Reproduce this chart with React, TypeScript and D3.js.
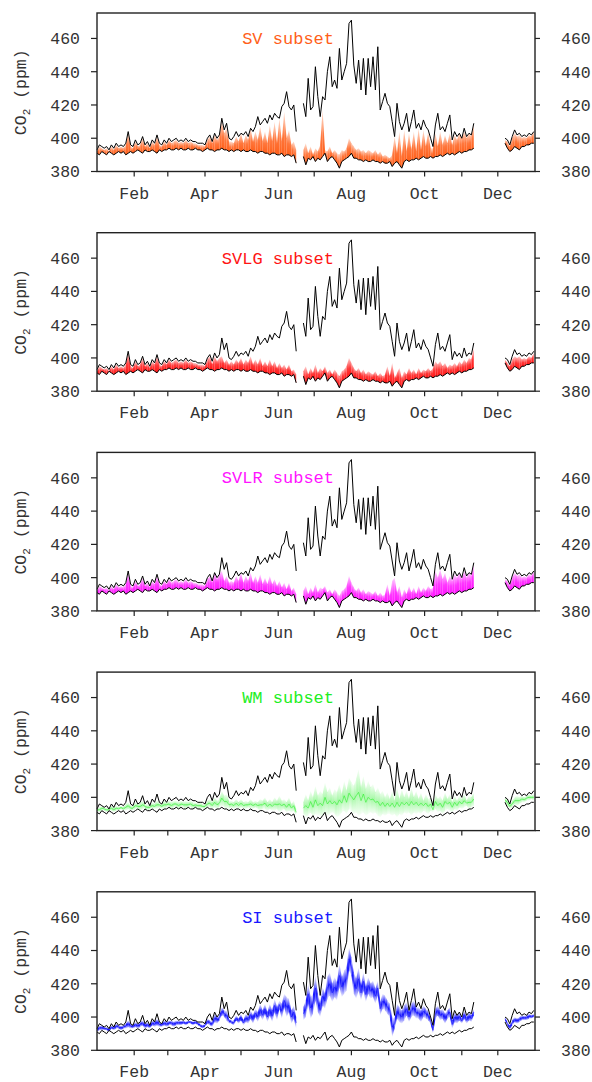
import React from 'react';
import * as d3 from 'd3';

const W = 592;
const H = 1082;
const PLOT_LEFT = 97;
const PLOT_RIGHT = 535;
const FIRST_TOP = 13;
const PANEL_STEP = 219.7;
const PANEL_H = 158.5;
const Y_MIN = 380;
const Y_MAX = 475.3;
const FONT = "'Liberation Mono', 'Courier New', monospace";

// one sample every two days (day of year 0..364)
const DAYS = d3.range(0, 365, 2);
const GAP_SHORT = [null, null];
const GAP_LONG = Array(12).fill(null);

const MONTH_DAYS = [31, 59, 90, 120, 151, 181, 212, 243, 273, 304, 334];
const MONTH_LABELS = ['Feb', '', 'Apr', '', 'Jun', '', 'Aug', '', 'Oct', '', 'Dec'];
const Y_TICKS = [380, 400, 420, 440, 460];

// upper envelope (black)
const MAX_CO2 = [
  393, 396, 395, 394, 395, 393, 396, 394, 397, 395, 396, 395,
  397, 404, 396, 395, 399, 396, 397, 401, 396, 398, 395, 399,
  397, 402, 397, 396, 399, 397, 400, 398, 399, 400, 398, 399,
  398, 400, 398, 399, 398, 398, 397, 397, 397, 396, 400, 402,
  398, 403, 400, 402, 412, 405, 409, 400, 399, 401, 404, 401,
  403, 402, 404, 401, 406, 404, 407, 413, 408, 410, 412, 409,
  414, 411, 415, 413, 412, 419, 421, 428, 419, 417, 420, 404,
  ...GAP_SHORT,
  421, 413, 436, 417, 419, 443, 425, 413, 425, 423, 440, 449,
  431, 435, 430, 454, 435, 440, 445, 469, 471, 444, 433, 447,
  429, 448, 426, 448, 431, 449, 429, 455, 417, 422, 427, 421,
  419, 410, 401, 421, 410, 405, 409, 415, 404, 410, 417, 406,
  409, 405, 411, 407, 405, 400, 395, 408, 415, 405, 407, 404,
  409, 414, 399, 404, 401, 403, 400, 406, 401, 403, 402, 409,
  ...GAP_LONG,
  400, 399, 396, 401, 405, 402, 403, 401, 402, 401, 403, 402, 404,
];

// lower envelope (black)
const MIN_CO2 = [
  391, 390, 392, 391, 390, 392, 391, 390, 391, 392, 391, 392,
  390, 391, 392, 391, 392, 393, 392, 391, 393, 392, 392, 393,
  392, 391, 393, 392, 393, 393, 394, 393, 393, 394, 393, 394,
  393, 393, 394, 393, 393, 394, 393, 393, 392, 393, 394, 393,
  393, 392, 393, 393, 394, 393, 393, 392, 393, 392, 393, 393,
  392, 393, 392, 392, 393, 392, 392, 391, 392, 392, 391, 391,
  390, 391, 391, 390, 390, 391, 389, 390, 390, 389, 390, 385,
  ...GAP_SHORT,
  389, 384, 388, 387, 389, 386, 388, 387, 389, 391, 386, 388,
  389, 387, 385, 382, 386, 387, 388, 389, 391, 388, 388, 387,
  387, 386, 387, 386, 386, 387, 386, 386, 385, 386, 385, 385,
  386, 383, 385, 386, 384, 382, 386, 387, 386, 387, 387, 388,
  387, 388, 389, 388, 388, 389, 388, 389, 389, 390, 389, 390,
  391, 390, 391, 390, 391, 392, 391, 392, 392, 393, 393, 394,
  ...GAP_LONG,
  397, 394, 392, 393, 395, 394, 393, 395, 395, 396, 396, 397, 397,
];

// winter part shared by the SV, SVLG and SVLR upper edges (days 0-94)
const EARLY_HI = [
  392, 395, 394, 393, 394, 392, 395, 393, 396, 394, 395, 394,
  396, 403, 395, 394, 398, 395, 396, 400, 395, 397, 394, 398,
  396, 401, 396, 395, 398, 396, 399, 397, 398, 399, 397, 398,
  397, 399, 397, 398, 397, 397, 396, 396, 396, 395, 399, 401,
];

const SV_HI = [
  ...EARLY_HI,
  397, 402, 399, 401, 410, 403, 406, 398, 398, 397, 401, 398,
  403, 397, 402, 399, 406, 398, 404, 399, 407, 398, 404, 397,
  408, 398, 410, 397, 412, 398, 416, 400, 405, 396, 398, 393,
  ...GAP_SHORT,
  393, 397, 391, 395, 390, 394, 392, 396, 417, 393, 392, 395,
  391, 393, 391, 390, 393, 392, 394, 400, 397, 395, 393, 394,
  392, 393, 391, 393, 392, 391, 393, 390, 392, 389, 390, 389,
  388, 390, 401, 391, 404, 389, 405, 392, 403, 393, 404, 392,
  406, 393, 405, 395, 404, 394, 394, 403, 395, 404, 396, 402,
  397, 403, 396, 402, 399, 403, 400, 404, 400, 403, 401, 408,
  ...GAP_LONG,
  399, 398, 395, 400, 403, 401, 402, 400, 401, 400, 402, 401, 404,
];

const SVLG_HI = [
  ...EARLY_HI,
  396, 401, 398, 400, 401, 397, 399, 396, 398, 396, 399, 397,
  400, 396, 399, 397, 401, 396, 399, 396, 400, 395, 398, 395,
  399, 395, 398, 394, 397, 394, 396, 393, 396, 392, 393, 390,
  ...GAP_SHORT,
  392, 395, 390, 394, 391, 396, 391, 394, 392, 395, 391, 393,
  390, 393, 391, 389, 392, 393, 395, 400, 397, 394, 392, 394,
  391, 393, 390, 392, 391, 390, 392, 389, 391, 389, 390, 395,
  389, 397, 388, 391, 394, 388, 392, 390, 394, 391, 393, 390,
  394, 391, 393, 392, 394, 392, 394, 398, 396, 398, 395, 397,
  394, 396, 395, 397, 395, 398, 396, 399, 397, 400, 399, 406,
  ...GAP_LONG,
  399, 397, 395, 399, 401, 400, 401, 399, 400, 399, 401, 400, 403,
];

const SVLR_HI = [
  ...EARLY_HI,
  397, 403, 399, 402, 404, 398, 401, 397, 398, 397, 401, 398,
  403, 397, 401, 398, 403, 397, 401, 397, 402, 396, 400, 396,
  401, 396, 399, 395, 398, 394, 397, 393, 397, 392, 394, 390,
  ...GAP_SHORT,
  392, 395, 390, 394, 391, 396, 391, 394, 393, 395, 391, 393,
  390, 393, 391, 389, 392, 393, 395, 401, 397, 394, 392, 394,
  391, 393, 390, 392, 391, 390, 392, 389, 391, 389, 390, 396,
  389, 398, 400, 391, 395, 388, 393, 390, 395, 391, 394, 390,
  395, 391, 394, 392, 395, 393, 394, 404, 400, 405, 399, 403,
  397, 401, 398, 402, 400, 403, 399, 404, 400, 403, 401, 408,
  ...GAP_LONG,
  399, 398, 395, 400, 403, 401, 402, 400, 401, 400, 402, 401, 404,
];

const WM_LO = [
  392, 391, 392, 392, 391, 392, 392, 391, 392, 392, 393, 392,
  392, 393, 392, 392, 393, 393, 392, 393, 393, 392, 393, 393,
  393, 393, 394, 393, 393, 394, 394, 393, 394, 394, 393, 394,
  394, 393, 394, 394, 393, 394, 393, 393, 393, 393, 394, 394,
  393, 394, 393, 394, 395, 394, 393, 393, 394, 393, 394, 393,
  394, 393, 393, 394, 393, 393, 394, 393, 392, 393, 393, 392,
  393, 392, 392, 393, 391, 392, 393, 391, 392, 391, 392, 389,
  ...GAP_SHORT,
  390, 388, 389, 391, 388, 390, 389, 389, 388, 391, 389, 390,
  391, 390, 388, 389, 391, 392, 390, 393, 392, 390, 391, 389,
  390, 391, 389, 390, 391, 390, 391, 389, 388, 390, 389, 390,
  390, 389, 390, 388, 390, 389, 391, 390, 391, 389, 391, 390,
  391, 390, 392, 391, 390, 392, 391, 393, 391, 392, 390, 392,
  393, 392, 391, 393, 392, 394, 393, 394, 395, 393, 394, 395,
  ...GAP_LONG,
  397, 395, 393, 394, 396, 395, 396, 397, 397, 398, 398, 399, 398,
];

const WM_HI = [
  393, 394, 395, 394, 394, 393, 395, 394, 395, 394, 395, 394,
  396, 397, 395, 395, 397, 396, 397, 398, 396, 396, 395, 397,
  396, 398, 397, 396, 398, 397, 398, 397, 398, 398, 397, 398,
  397, 398, 397, 398, 397, 397, 397, 397, 396, 396, 398, 399,
  397, 400, 398, 399, 404, 401, 402, 398, 398, 397, 399, 397,
  399, 397, 398, 397, 399, 397, 398, 397, 399, 398, 400, 397,
  399, 397, 400, 398, 401, 398, 399, 397, 400, 396, 398, 393,
  ...GAP_SHORT,
  397, 402, 398, 404, 400, 407, 401, 404, 402, 409, 403, 406,
  401, 405, 403, 408, 402, 410, 404, 412, 409, 407, 411, 417,
  406, 413, 405, 410, 406, 408, 403, 406, 402, 404, 400, 403,
  399, 404, 398, 406, 399, 405, 400, 404, 399, 406, 400, 404,
  399, 403, 398, 402, 399, 400, 394, 402, 399, 401, 398, 403,
  399, 402, 397, 401, 398, 401, 399, 402, 398, 401, 400, 403,
  ...GAP_LONG,
  400, 399, 396, 398, 400, 401, 400, 401, 400, 401, 402, 401, 402,
];

const SI_LO = [
  391, 392, 392, 392, 392, 391, 393, 392, 393, 393, 392, 393,
  393, 394, 393, 393, 394, 393, 394, 395, 393, 394, 393, 395,
  394, 395, 394, 394, 395, 394, 395, 395, 394, 395, 395, 395,
  396, 395, 396, 396, 395, 396, 395, 394, 393, 394, 396, 395,
  394, 397, 396, 398, 401, 400, 398, 396, 396, 395, 398, 396,
  398, 395, 397, 396, 399, 396, 400, 397, 401, 398, 402, 397,
  401, 397, 403, 398, 405, 399, 406, 400, 403, 396, 399, 393,
  ...GAP_SHORT,
  398, 400, 408, 399, 402, 410, 403, 400, 407, 405, 411, 413,
  409, 412, 410, 418, 412, 414, 416, 428, 425, 414, 411, 416,
  410, 416, 409, 414, 411, 412, 408, 413, 401, 405, 404, 402,
  400, 388, 393, 399, 397, 396, 398, 401, 397, 400, 401, 399,
  399, 397, 400, 399, 398, 396, 390, 399, 401, 398, 399, 396,
  399, 400, 393, 397, 396, 398, 396, 399, 396, 398, 397, 401,
  ...GAP_LONG,
  398, 395, 392, 395, 397, 396, 397, 398, 398, 398, 399, 399, 400,
];

const SI_HI = [
  393, 395, 395, 394, 394, 393, 395, 394, 396, 395, 395, 395,
  396, 398, 396, 395, 397, 396, 397, 398, 396, 397, 395, 398,
  397, 399, 397, 396, 398, 397, 398, 398, 397, 398, 398, 398,
  398, 397, 398, 398, 397, 398, 397, 396, 395, 396, 399, 398,
  397, 402, 400, 401, 406, 404, 404, 399, 398, 398, 401, 399,
  402, 398, 402, 400, 404, 401, 405, 403, 408, 404, 408, 403,
  408, 404, 411, 406, 410, 408, 414, 412, 411, 404, 407, 400,
  ...GAP_SHORT,
  406, 410, 420, 412, 414, 425, 414, 408, 418, 414, 424, 427,
  420, 424, 421, 432, 424, 428, 430, 442, 436, 427, 423, 430,
  419, 427, 418, 424, 420, 422, 417, 422, 409, 414, 413, 410,
  408, 400, 399, 408, 406, 404, 407, 409, 403, 408, 410, 406,
  406, 404, 407, 405, 404, 399, 394, 405, 407, 404, 405, 402,
  404, 406, 398, 403, 401, 403, 399, 404, 400, 403, 401, 405,
  ...GAP_LONG,
  400, 397, 395, 398, 400, 399, 400, 401, 401, 401, 402, 401, 402,
];

type Series = (number | null)[];

interface PanelCfg {
  title: string;
  color: string;
  lo: Series;
  hi: Series;
  style: 'fade' | 'center';
  peak: number;
  midOpacity: number;
}

const PANELS: PanelCfg[] = [
  { title: 'SV subset', color: '#ff5f1a', lo: MIN_CO2, hi: SV_HI, style: 'fade', peak: 1, midOpacity: 0 },
  { title: 'SVLG subset', color: '#ff1414', lo: MIN_CO2, hi: SVLG_HI, style: 'fade', peak: 1, midOpacity: 0 },
  { title: 'SVLR subset', color: '#ff14ff', lo: MIN_CO2, hi: SVLR_HI, style: 'fade', peak: 1, midOpacity: 0 },
  { title: 'WM subset', color: '#22ee22', lo: WM_LO, hi: WM_HI, style: 'center', peak: 0.4, midOpacity: 0.6 },
  { title: 'SI subset', color: '#1818ff', lo: SI_LO, hi: SI_HI, style: 'center', peak: 1, midOpacity: 0.7 },
];

const x = d3.scaleLinear().domain([0, 365]).range([PLOT_LEFT, PLOT_RIGHT]);

function Panel({ cfg, index }: { cfg: PanelCfg; index: number }) {
  const top = FIRST_TOP + index * PANEL_STEP;
  const bottom = top + PANEL_H;
  const y = d3.scaleLinear().domain([Y_MIN, Y_MAX]).range([bottom, top]);
  const gradId = `band-grad-${index}`;

  const line = d3
    .line<number | null>()
    .defined((v) => v != null)
    .x((_, i) => x(DAYS[i]))
    .y((v) => y(v as number));

  const polys: string[] = [];
  for (let i = 0; i < DAYS.length - 1; i++) {
    const l0 = cfg.lo[i];
    const h0 = cfg.hi[i];
    const l1 = cfg.lo[i + 1];
    const h1 = cfg.hi[i + 1];
    if (l0 == null || h0 == null || l1 == null || h1 == null) continue;
    const xa = x(DAYS[i]);
    const xb = x(DAYS[i + 1]);
    polys.push(`M${xa},${y(h0)}L${xb},${y(h1)}L${xb},${y(l1)}L${xa},${y(l0)}Z`);
  }

  const mid = cfg.lo.map((v, i) => (v == null || cfg.hi[i] == null ? null : (v + (cfg.hi[i] as number)) / 2));

  return (
    <g>
      <defs>
        {cfg.style === 'fade' ? (
          <linearGradient id={gradId} x1="0" y1="0" x2="0" y2="1">
            <stop offset="0" stopColor={cfg.color} stopOpacity={0.2} />
            <stop offset="0.55" stopColor={cfg.color} stopOpacity={0.85} />
            <stop offset="1" stopColor={cfg.color} stopOpacity={1} />
          </linearGradient>
        ) : (
          <linearGradient id={gradId} x1="0" y1="0" x2="0" y2="1">
            <stop offset="0" stopColor={cfg.color} stopOpacity={0.03} />
            <stop offset="0.5" stopColor={cfg.color} stopOpacity={cfg.peak} />
            <stop offset="1" stopColor={cfg.color} stopOpacity={0.03} />
          </linearGradient>
        )}
      </defs>

      {/* coloured band */}
      {polys.map((d, i) => (
        <path key={i} d={d} fill={`url(#${gradId})`} stroke="none" />
      ))}
      {cfg.midOpacity > 0 && (
        <path d={line(mid) ?? ''} fill="none" stroke={cfg.color} strokeWidth={0.9} strokeOpacity={cfg.midOpacity} />
      )}

      {/* envelopes */}
      <path d={line(MAX_CO2) ?? ''} fill="none" stroke="#000" strokeWidth={1} />
      <path d={line(MIN_CO2) ?? ''} fill="none" stroke="#000" strokeWidth={1} />

      {/* frame */}
      <rect
        x={PLOT_LEFT}
        y={top}
        width={PLOT_RIGHT - PLOT_LEFT}
        height={PANEL_H}
        fill="none"
        stroke="#222"
        strokeWidth={1.4}
      />

      {/* y axes, both sides */}
      {Y_TICKS.map((t) => (
        <g key={t}>
          <line x1={PLOT_LEFT - 6} x2={PLOT_LEFT} y1={y(t)} y2={y(t)} stroke="#222" strokeWidth={1.2} />
          <line x1={PLOT_RIGHT} x2={PLOT_RIGHT + 5} y1={y(t)} y2={y(t)} stroke="#222" strokeWidth={1.2} />
          <text x={80} y={y(t)} dy="0.36em" textAnchor="end" fontSize={16.5} fill="#333">
            {t}
          </text>
          <text x={561} y={y(t)} dy="0.36em" textAnchor="start" fontSize={16.5} fill="#333">
            {t}
          </text>
        </g>
      ))}

      {/* x axis */}
      {MONTH_DAYS.map((d, i) => (
        <g key={d}>
          <line x1={x(d)} x2={x(d)} y1={bottom} y2={bottom + 5} stroke="#222" strokeWidth={1.2} />
          {MONTH_LABELS[i] && (
            <text x={x(d)} y={bottom + 27} textAnchor="middle" fontSize={16.5} fill="#333">
              {MONTH_LABELS[i]}
            </text>
          )}
        </g>
      ))}

      <text
        transform={`translate(26,${top + PANEL_H / 2}) rotate(-90)`}
        textAnchor="middle"
        fontSize={16.5}
        fill="#333"
      >
        CO<tspan fontSize={11} dy={4}>2</tspan>
        <tspan dy={-4}>{'\u00a0(ppm)'}</tspan>
      </text>

      <text x={334} y={top + 31} textAnchor="end" fontSize={17} fill={cfg.color}>
        {cfg.title}
      </text>
    </g>
  );
}

export default function App() {
  return (
    <svg width={W} height={H} style={{ display: 'block', background: '#fff', fontFamily: FONT }}>
      <style>{'body{margin:0}'}</style>
      <rect width={W} height={H} fill="#fff" />
      {PANELS.map((p, i) => (
        <Panel key={p.title} cfg={p} index={i} />
      ))}
    </svg>
  );
}
